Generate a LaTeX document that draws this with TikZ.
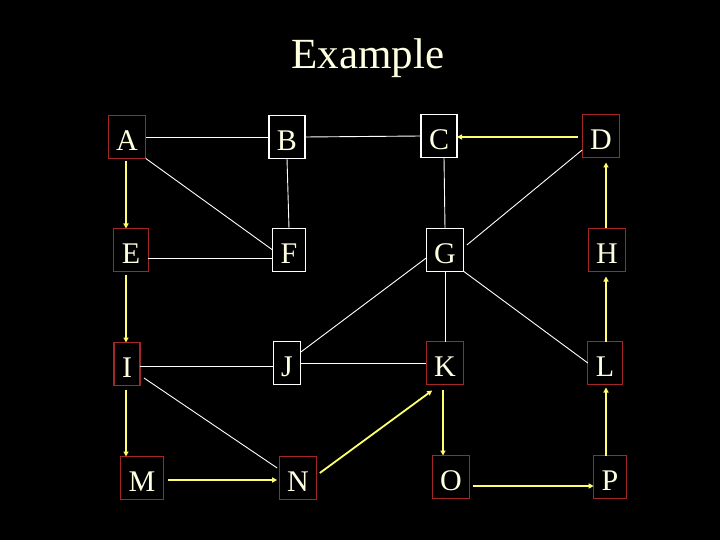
\documentclass[tikz,border=0pt]{standalone}
\usepackage{fontspec}
\setmainfont{Liberation Serif}
\usetikzlibrary{arrows.meta}
\definecolor{boxred}{RGB}{165,38,38}
\definecolor{cream}{RGB}{255,255,225}
\definecolor{ylw}{RGB}{255,255,110}
\tikzset{
  box/.style={draw=#1, line width=1.2pt, text=cream, font=\fontsize{30}{30}\selectfont,
    minimum height=43pt, text height=27pt, text depth=0pt,
    inner xsep=8pt, inner ysep=0pt, outer sep=0pt},
  rbox/.style={box=boxred},
  wbox/.style={box=white},
  wl/.style={draw=white, line width=0.9pt},
  ya/.style={draw=ylw, line width=1.8pt, -{Triangle[length=5pt,width=5pt]}}
}
\begin{document}
\begin{tikzpicture}[x=1pt,y=-1pt]
\fill[black] (0,0) rectangle (720,540);
\useasboundingbox (0,0) rectangle (720,540);
\node[anchor=base, text=cream, font=\fontsize{43}{43}\selectfont] (title) at (368,69) {Example};
% nodes
\node[rbox] (A) at (127,137) {A};
\node[wbox] (B) at (287,137) {B};
\node[wbox] (C) at (439,136) {C};
\node[rbox] (D) at (601,136) {D};
\node[rbox] (E) at (131,250) {E};
\node[wbox] (F) at (289,250) {F};
\node[wbox] (G) at (445,250) {G};
\node[rbox] (H) at (607,250) {H};
\node[rbox] (I) at (127,364) {I};
\node[wbox] (J) at (287,363) {J};
\node[rbox] (K) at (445,363) {K};
\node[rbox] (L) at (605,363) {L};
\node[rbox] (M) at (142,478) {M};
\node[rbox] (N) at (298,478) {N};
\node[rbox] (O) at (451,477) {O};
\node[rbox] (P) at (610,477) {P};
% white connectors
\draw[wl] (A.east) -- (B.west);
\draw[wl] (B.east) -- (C.west);
\draw[wl] (B.south) -- (F.north);
\draw[wl] ([xshift=5pt]C.south) -- (G.north);
\draw[wl] (G.south) -- (K.north);
\draw[wl] ([yshift=-8pt]E.east) coordinate (ef) -- (ef -| F.west);
\draw[wl] ([yshift=-2pt]I.east) coordinate (ij) -- (ij -| J.west);
\draw[wl] (J.east) -- (K.west);
\draw[wl] (A.south east) -- (F.west);
\draw[wl] ([yshift=-14pt]D.west) -- ([xshift=3pt,yshift=5pt]G.east);
\draw[wl] ([yshift=-8pt]G.west) -- ([yshift=11pt]J.east);
\draw[wl] (G.south east) -- (L.west);
\draw[wl] ([xshift=4pt,yshift=-14pt]I.east) -- ([xshift=-2pt,yshift=10pt]N.west);
% yellow arrows
\draw[ya] ([xshift=-1pt,yshift=-3pt]A.south) coordinate (ae) -- (ae |- E.north);
\draw[ya] ([xshift=-5pt,yshift=-3pt]E.south) coordinate (ei) -- (ei |- I.north);
\draw[ya] ([xshift=-1pt,yshift=-4pt]I.south) coordinate (im) -- (im |- M.north);
\draw[ya, shorten >=2pt] ([xshift=5pt,yshift=-2pt]M.east) coordinate (mn) -- (mn -| N.west);
\draw[ya] ([xshift=3pt,yshift=-9pt]O.east) coordinate (op) -- (op -| P.west);
\draw[ya] ([xshift=-2pt,yshift=-5pt]K.south) coordinate (ko) -- (ko |- O.north);
\draw[ya, shorten >=3pt] ([xshift=-4pt]P.north) coordinate (pl) -- (pl |- L.south);
\draw[ya, shorten >=5pt] ([xshift=1pt]L.north) coordinate (lh) -- (lh |- H.south);
\draw[ya, shorten >=5pt] ([xshift=-1pt]H.north) coordinate (hd) -- (hd |- D.south);
\draw[ya] ([xshift=-4pt,yshift=-1pt]D.west) coordinate (dc) -- (dc -| C.east);
\draw[ya] ([xshift=3pt,yshift=5pt]N.east) -- ([xshift=6pt,yshift=-6pt]K.south west);
\end{tikzpicture}
\end{document}
